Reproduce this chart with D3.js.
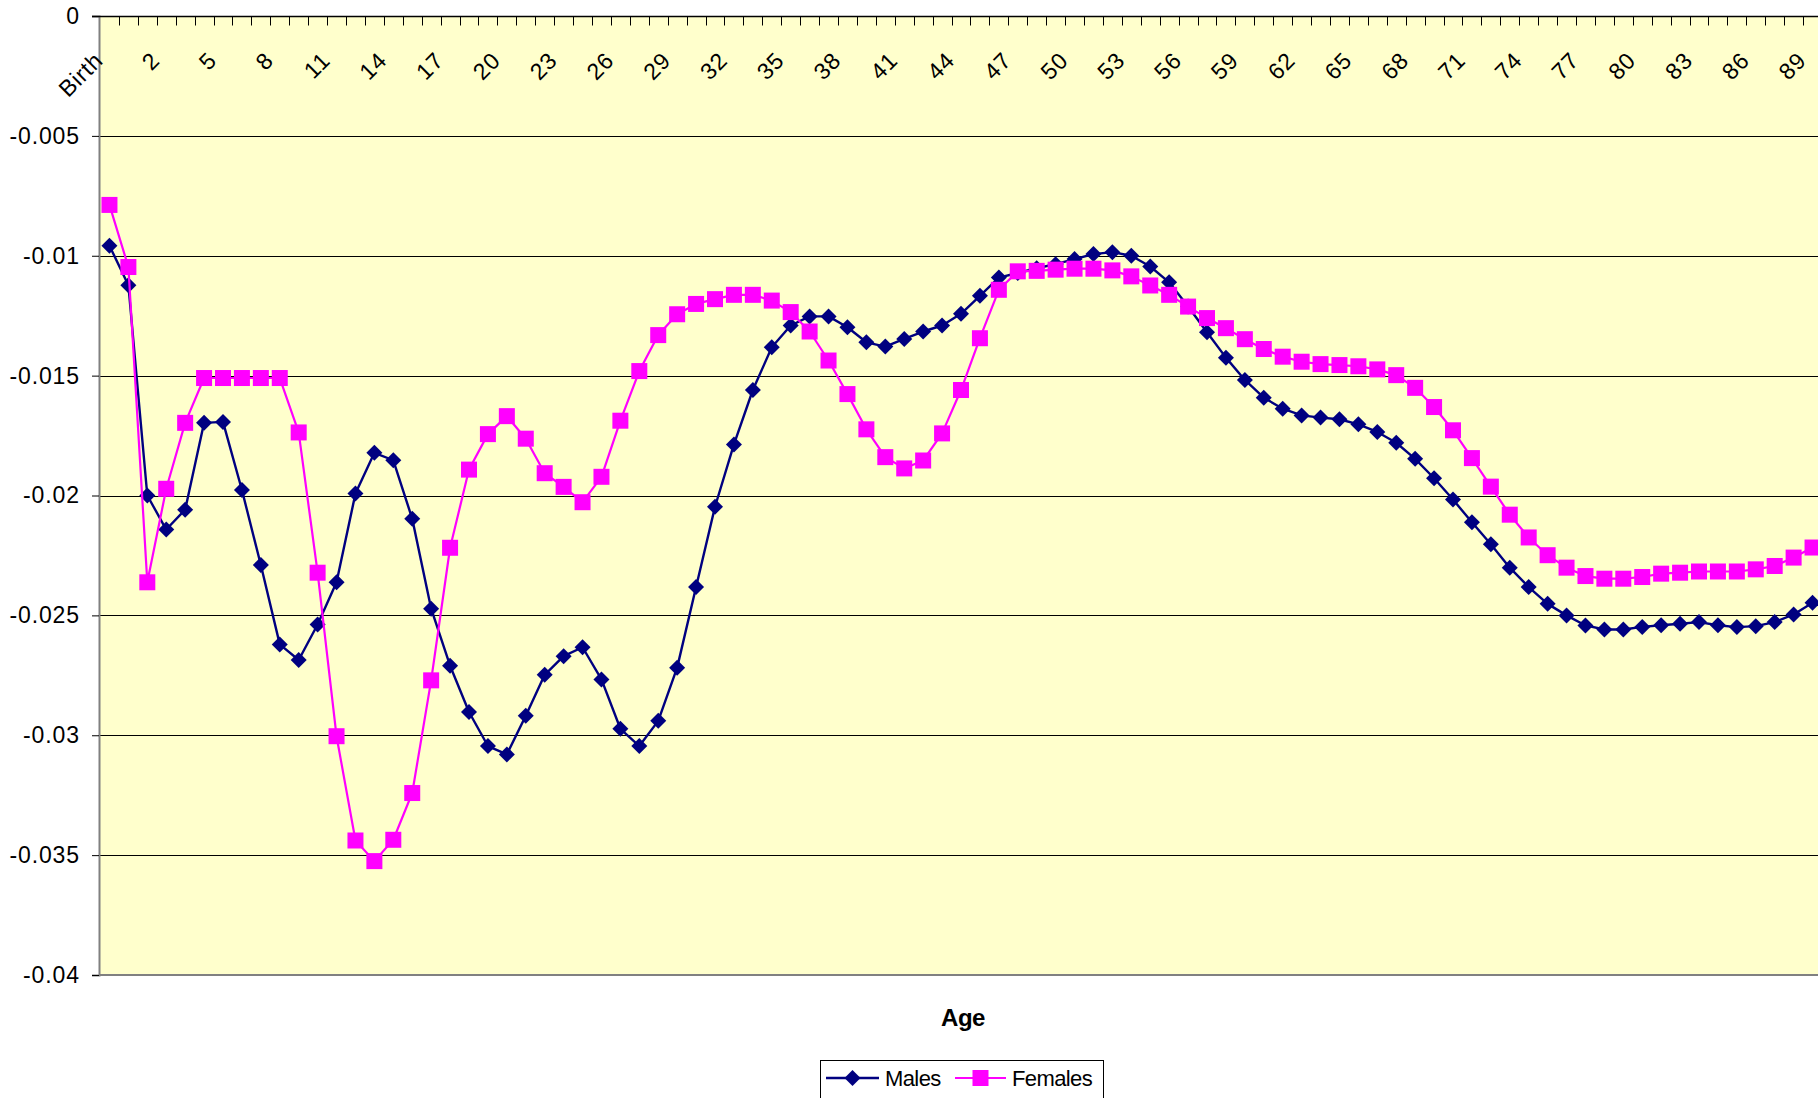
<!DOCTYPE html>
<html>
<head>
<meta charset="utf-8">
<script src="https://cdn.jsdelivr.net/npm/d3@7"></script>
<style>
  html, body { margin: 0; padding: 0; background: #ffffff; overflow: hidden; }
  svg { display: block; font-family: "Liberation Sans", Arial, sans-serif; }
</style>
</head>
<body>
<svg id="chart" width="1818" height="1098"></svg>
<script>
// Age categories: "Birth", then single years 0..89
const categories = ["Birth"].concat(d3.range(0, 90).map(String));

const males = [
  -0.00958, -0.01123, -0.02000, -0.02142, -0.02059, -0.01697, -0.01693, -0.01977, -0.02290, -0.02621,
  -0.02686, -0.02538, -0.02362, -0.01992, -0.01822, -0.01853, -0.02097, -0.02472, -0.02710, -0.02903,
  -0.03045, -0.03080, -0.02919, -0.02748, -0.02670, -0.02633, -0.02767, -0.02973, -0.03045, -0.02940,
  -0.02718, -0.02382, -0.02047, -0.01787, -0.01560, -0.01382, -0.01291, -0.01253, -0.01253, -0.01298,
  -0.01361, -0.01379, -0.01347, -0.01316, -0.01291, -0.01242, -0.01167, -0.01091, -0.01072, -0.01052,
  -0.01035, -0.01014, -0.00993, -0.00985, -0.01000, -0.01045, -0.01111, -0.01212, -0.01319, -0.01425,
  -0.01518, -0.01592, -0.01638, -0.01666, -0.01675, -0.01682, -0.01703, -0.01735, -0.01780, -0.01847,
  -0.01928, -0.02017, -0.02112, -0.02203, -0.02301, -0.02382, -0.02452, -0.02500, -0.02542, -0.02559,
  -0.02559, -0.02548, -0.02541, -0.02535, -0.02528, -0.02541, -0.02549, -0.02545, -0.02528, -0.02496,
  -0.02447
];

const females = [
  -0.00788, -0.01047, -0.02362, -0.01972, -0.01697, -0.01510, -0.01510, -0.01510, -0.01510, -0.01510,
  -0.01737, -0.02322, -0.03004, -0.03439, -0.03525, -0.03436, -0.03241, -0.02771, -0.02218, -0.01892,
  -0.01744, -0.01669, -0.01763, -0.01907, -0.01964, -0.02028, -0.01922, -0.01688, -0.01481, -0.01331,
  -0.01244, -0.01201, -0.01181, -0.01163, -0.01163, -0.01187, -0.01235, -0.01316, -0.01437, -0.01577,
  -0.01724, -0.01840, -0.01887, -0.01854, -0.01741, -0.01560, -0.01344, -0.01142, -0.01065, -0.01063,
  -0.01058, -0.01054, -0.01054, -0.01061, -0.01086, -0.01124, -0.01163, -0.01212, -0.01260, -0.01302,
  -0.01348, -0.01389, -0.01421, -0.01442, -0.01452, -0.01456, -0.01461, -0.01474, -0.01498, -0.01551,
  -0.01631, -0.01728, -0.01844, -0.01963, -0.02080, -0.02175, -0.02249, -0.02301, -0.02336, -0.02347,
  -0.02347, -0.02340, -0.02326, -0.02322, -0.02317, -0.02317, -0.02317, -0.02308, -0.02294, -0.02259,
  -0.02217
];

const yTicks = [0, -0.005, -0.01, -0.015, -0.02, -0.025, -0.03, -0.035, -0.04];
const yTickLabels = ["0", "-0.005", "-0.01", "-0.015", "-0.02", "-0.025", "-0.03", "-0.035", "-0.04"];
const labelEvery = 3;

const seriesList = [
  { name: "Males", values: males, color: "#000080", marker: "diamond", width: 2.4 },
  { name: "Females", values: females, color: "#FF00FF", marker: "square", width: 2.2 }
];

const W = 1818, H = 1098;
const plotLeft = 100, plotRight = 1822, plotTop = 16, plotBottom = 975;

const svg = d3.select("#chart");

const x = d3.scaleBand().domain(categories).range([plotLeft, plotRight]).padding(0);
const xc = c => x(c) + x.bandwidth() / 2;
const y = d3.scaleLinear().domain([-0.04, 0]).range([plotBottom, plotTop]);

// plot area
svg.append("rect")
  .attr("x", plotLeft).attr("y", plotTop)
  .attr("width", W - plotLeft).attr("height", plotBottom - plotTop)
  .attr("fill", "#FFFFCC");

// horizontal gridlines
svg.append("g")
  .selectAll("line")
  .data(yTicks.filter(v => v < 0 && v > -0.04))
  .join("line")
  .attr("x1", plotLeft).attr("x2", W)
  .attr("y1", d => Math.round(y(d)) + 0.5).attr("y2", d => Math.round(y(d)) + 0.5)
  .attr("stroke", "#000").attr("stroke-width", 1);

// bottom border of plot
svg.append("line")
  .attr("x1", plotLeft).attr("x2", W)
  .attr("y1", plotBottom).attr("y2", plotBottom)
  .attr("stroke", "#808080").attr("stroke-width", 2);

// y axis
const yAxis = d3.axisLeft(y)
  .tickValues(yTicks)
  .tickSize(7)
  .tickPadding(12)
  .tickFormat((d, i) => yTickLabels[i]);
const yg = svg.append("g").attr("transform", `translate(${plotLeft - 1},0)`).call(yAxis);
yg.select(".domain").attr("stroke", "#808080").attr("stroke-width", 2);
yg.selectAll(".tick line").attr("stroke", "#000");
yg.selectAll(".tick text")
  .attr("font-size", 23)
  .attr("font-family", "'Liberation Sans', Arial, sans-serif")
  .attr("letter-spacing", "0.9")
  .attr("fill", "#000");

// category axis along value 0 (top), ticks between categories pointing into the plot
const y0 = Math.round(y(0)) + 0.5;
svg.append("line")
  .attr("x1", plotLeft - 8).attr("x2", W)
  .attr("y1", y0).attr("y2", y0)
  .attr("stroke", "#000").attr("stroke-width", 1.3);

const boundaries = categories.map(c => x(c)).slice(1).concat([x(categories[categories.length - 1]) + x.bandwidth()]);
svg.append("g")
  .selectAll("line")
  .data(boundaries)
  .join("line")
  .attr("x1", d => Math.round(d) + 0.5).attr("x2", d => Math.round(d) + 0.5)
  .attr("y1", y0).attr("y2", y0 + 9)
  .attr("stroke", "#000").attr("stroke-width", 1);

// rotated category labels
svg.append("g")
  .selectAll("text")
  .data(categories.filter((c, i) => i % labelEvery === 0))
  .join("text")
  .attr("transform", d => `translate(${xc(d) - 5},${plotTop + 46}) rotate(-45)`)
  .attr("text-anchor", "end")
  .attr("font-size", 23)
  .attr("letter-spacing", "0.8")
  .attr("fill", "#000")
  .text(d => d);

// series lines and markers
const diamond = "M0,-8L8,0L0,8L-8,0Z";
const sq = 16;
const line = d3.line().x((d, i) => xc(categories[i])).y(d => y(d));

seriesList.forEach(s => {
  const g = svg.append("g");
  g.append("path")
    .datum(s.values)
    .attr("d", line)
    .attr("fill", "none")
    .attr("stroke", s.color)
    .attr("stroke-width", s.width)
    .attr("stroke-linejoin", "round");
  if (s.marker === "diamond") {
    g.selectAll("path.m")
      .data(s.values)
      .join("path")
      .attr("class", "m")
      .attr("d", diamond)
      .attr("transform", (d, i) => `translate(${xc(categories[i])},${y(d)})`)
      .attr("fill", s.color);
  } else {
    g.selectAll("rect.m")
      .data(s.values)
      .join("rect")
      .attr("class", "m")
      .attr("x", (d, i) => xc(categories[i]) - sq / 2)
      .attr("y", d => y(d) - sq / 2)
      .attr("width", sq).attr("height", sq)
      .attr("fill", s.color);
  }
});

// axis title
svg.append("text")
  .attr("x", 963).attr("y", 1026)
  .attr("text-anchor", "middle")
  .attr("font-size", 24)
  .attr("font-weight", "bold")
  .attr("letter-spacing", "-0.5")
  .text("Age");

// legend
const lg = svg.append("g");
lg.append("rect")
  .attr("x", 820.5).attr("y", 1060.5)
  .attr("width", 283).attr("height", 60)
  .attr("fill", "#fff").attr("stroke", "#000").attr("stroke-width", 1);

const legendItems = [
  { s: seriesList[0], x0: 826, x1: 879, tx: 885 },
  { s: seriesList[1], x0: 955, x1: 1006, tx: 1012 }
];
const ly = 1078;
legendItems.forEach(it => {
  lg.append("line")
    .attr("x1", it.x0).attr("x2", it.x1)
    .attr("y1", ly).attr("y2", ly)
    .attr("stroke", it.s.color).attr("stroke-width", it.s.width);
  const mx = (it.x0 + it.x1) / 2;
  if (it.s.marker === "diamond") {
    lg.append("path").attr("d", diamond)
      .attr("transform", `translate(${mx},${ly})`)
      .attr("fill", it.s.color);
  } else {
    lg.append("rect")
      .attr("x", mx - sq / 2).attr("y", ly - sq / 2)
      .attr("width", sq).attr("height", sq)
      .attr("fill", it.s.color);
  }
  lg.append("text")
    .attr("x", it.tx).attr("y", ly + 8)
    .attr("font-size", 22)
    .attr("letter-spacing", "-0.6")
    .attr("fill", "#000")
    .text(it.s.name);
});
</script>
</body>
</html>
